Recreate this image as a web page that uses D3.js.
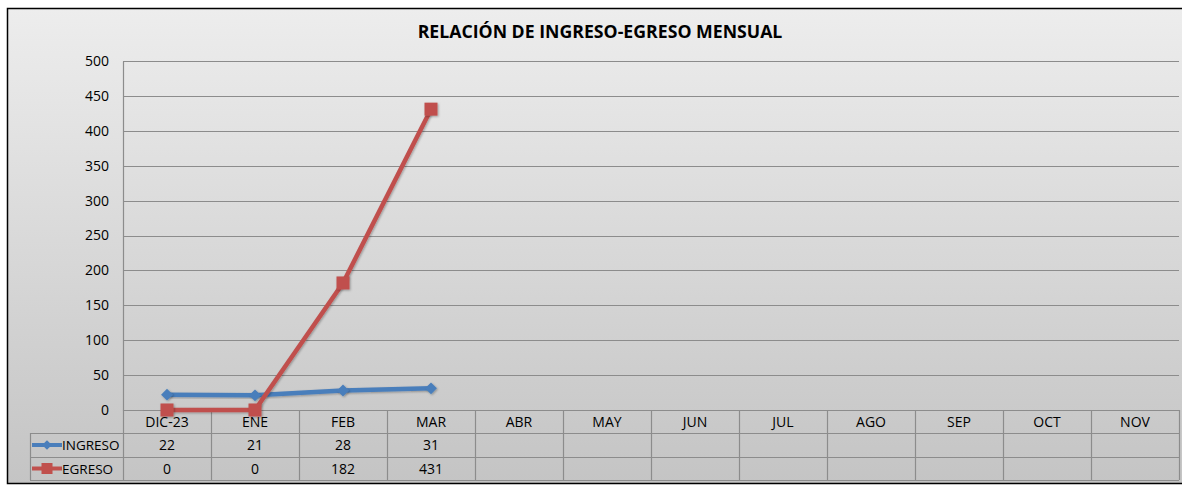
<!DOCTYPE html>
<html>
<head>
<meta charset="utf-8">
<script src="https://cdn.jsdelivr.net/npm/d3@7"></script>
<style>
  html, body { margin: 0; padding: 0; background: #fff; }
  svg { display: block; }
  text { font-family: "Open Sans", "DejaVu Sans", sans-serif; }
</style>
</head>
<body>
<svg id="chart" width="1182" height="485"></svg>
<script>
// Monthly income / expense figures
const months = ["DIC-23", "ENE", "FEB", "MAR", "ABR", "MAY", "JUN", "JUL", "AGO", "SEP", "OCT", "NOV"];
const ingreso = [22, 21, 28, 31];
const egreso = [0, 0, 182, 431];
const yTicks = [0, 50, 100, 150, 200, 250, 300, 350, 400, 450, 500];
const seriesNames = ["INGRESO", "EGRESO"];
const seriesColors = ["#4a7ebb", "#c0504d"];
const chartTitle = "RELACIÓN DE INGRESO-EGRESO MENSUAL";

const W = 1182, H = 485;
const plot = { left: 123, right: 1179, top: 61, bottom: 410 };
const rowH = [410, 433, 457, 480];
const legendLeft = 30;

const svg = d3.select("#chart");
const defs = svg.append("defs");

const bg = defs.append("linearGradient").attr("id", "bg")
  .attr("x1", 0).attr("y1", 0).attr("x2", 0).attr("y2", 1);
bg.append("stop").attr("offset", "0%").attr("stop-color", "#ededed");
bg.append("stop").attr("offset", "100%").attr("stop-color", "#c4c4c4");

const shadow = defs.append("filter").attr("id", "shadow")
  .attr("x", "-50%").attr("y", "-50%").attr("width", "200%").attr("height", "200%");
shadow.append("feDropShadow").attr("dx", 1).attr("dy", 1).attr("stdDeviation", 1)
  .attr("flood-color", "#000").attr("flood-opacity", 0.3);

// chart area frame
svg.append("rect").attr("x", 7.5).attr("y", 8.5).attr("width", W).attr("height", 475)
  .attr("fill", "url(#bg)").attr("stroke", "#000").attr("stroke-width", 1.5);

svg.append("text").attr("x", 600).attr("y", 38).attr("text-anchor", "middle")
  .attr("font-size", 17.7).attr("font-weight", 700).attr("fill", "#000")
  .text(chartTitle);

const x = d3.scaleBand().domain(months).range([plot.left, plot.right]);
const y = d3.scaleLinear().domain([0, 500]).range([plot.bottom, plot.top]);

// gridlines
const gridColor = "#8c8c8c";
svg.append("g").selectAll("line").data(yTicks).join("line")
  .attr("x1", plot.left).attr("x2", plot.right)
  .attr("y1", d => Math.round(y(d)) + 0.5).attr("y2", d => Math.round(y(d)) + 0.5)
  .attr("stroke", gridColor).attr("stroke-width", 1.2);

// y axis
const yAxis = d3.axisLeft(y).tickValues(yTicks).tickSize(0).tickPadding(14);
const gy = svg.append("g").attr("transform", `translate(${plot.left},0)`).call(yAxis);
gy.select(".domain").attr("stroke", gridColor).attr("stroke-width", 1.2);
gy.selectAll("text").attr("font-size", 14).attr("fill", "#000")
  .attr("font-family", "'Open Sans', sans-serif");

// data table grid
const tbl = svg.append("g").attr("stroke", gridColor).attr("stroke-width", 1.2).attr("fill", "none");
// horizontal lines
tbl.append("line").attr("x1", plot.left).attr("x2", plot.right).attr("y1", rowH[0] + 0.5).attr("y2", rowH[0] + 0.5);
[rowH[1], rowH[2], rowH[3]].forEach(v => {
  tbl.append("line").attr("x1", legendLeft).attr("x2", plot.right).attr("y1", v + 0.5).attr("y2", v + 0.5);
});
// vertical lines
const colEdges = months.map(m => x(m)).concat([plot.right]);
colEdges.forEach(v => {
  tbl.append("line").attr("x1", Math.round(v) + 0.5).attr("x2", Math.round(v) + 0.5)
    .attr("y1", rowH[0]).attr("y2", rowH[3]);
});
tbl.append("line").attr("x1", legendLeft + 0.5).attr("x2", legendLeft + 0.5)
  .attr("y1", rowH[1]).attr("y2", rowH[3]);

// table text
const tt = svg.append("g").attr("font-size", 14).attr("fill", "#000").attr("text-anchor", "middle");
months.forEach(m => {
  tt.append("text").attr("x", x(m) + x.bandwidth() / 2).attr("y", rowH[0] + 17).text(m);
});
[ingreso, egreso].forEach((vals, r) => {
  vals.forEach((v, i) => {
    tt.append("text").attr("x", x(months[i]) + x.bandwidth() / 2).attr("y", rowH[r + 1] + 17).text(v);
  });
});

// marker shapes
const diamond = d3.symbol().type(d3.symbolDiamond2).size(90);
function drawMarker(g, type, cx, cy, color) {
  if (type === 0) {
    g.append("path").attr("d", diamond()).attr("transform", `translate(${cx},${cy})`)
      .attr("fill", color).attr("filter", "url(#shadow)");
  } else {
    g.append("rect").attr("x", cx - 6.5).attr("y", cy - 6.5).attr("width", 13).attr("height", 13)
      .attr("fill", color).attr("filter", "url(#shadow)");
  }
}

// legend keys in the table
seriesNames.forEach((name, r) => {
  const cy = (rowH[r + 1] + rowH[r + 2]) / 2;
  const lg = svg.append("g");
  lg.append("line").attr("x1", 32).attr("x2", 62).attr("y1", cy).attr("y2", cy)
    .attr("stroke", seriesColors[r]).attr("stroke-width", 4);
  if (r === 0) {
    lg.append("path").attr("d", d3.symbol().type(d3.symbolDiamond2).size(60)())
      .attr("transform", `translate(47,${cy})`).attr("fill", seriesColors[r]);
  } else {
    lg.append("rect").attr("x", 41.5).attr("y", cy - 5.5).attr("width", 11).attr("height", 11)
      .attr("fill", seriesColors[r]);
  }
  lg.append("text").attr("x", 62).attr("y", cy + 5).attr("font-size", 13.5).attr("fill", "#000").text(name);
});

// series lines and markers
const line = d3.line().x((d, i) => x(months[i]) + x.bandwidth() / 2).y(d => y(d));
[ingreso, egreso].forEach((vals, s) => {
  const g = svg.append("g");
  g.append("path").datum(vals).attr("d", line).attr("fill", "none")
    .attr("stroke", seriesColors[s]).attr("stroke-width", 4.5).attr("stroke-linejoin", "round")
    .attr("filter", "url(#shadow)");
  vals.forEach((v, i) => drawMarker(g, s, x(months[i]) + x.bandwidth() / 2, y(v), seriesColors[s]));
});
</script>
</body>
</html>
